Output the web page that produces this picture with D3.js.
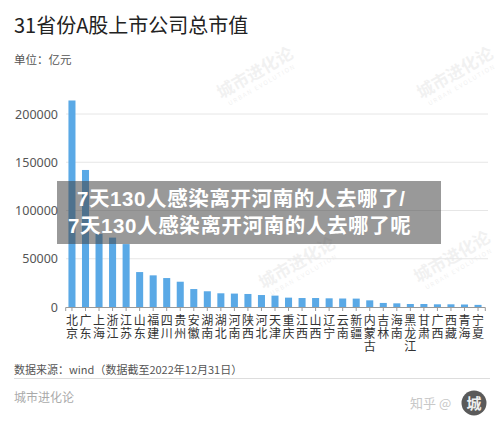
<!DOCTYPE html>
<html>
<head>
<meta charset="utf-8">
<script src="https://cdn.jsdelivr.net/npm/d3@7"></script>
<style>
  html, body { margin: 0; padding: 0; background: #fff; }
  svg { display: block; font-family: "Noto Sans CJK SC", "Noto Sans", sans-serif; }
</style>
</head>
<body>
<svg id="chart" width="500" height="425"></svg>
<script>
const provinces = ["北京","广东","上海","浙江","江苏","山东","福建","四川","贵州","安徽","湖南","湖北","河南","陕西","河北","天津","重庆","江西","山西","辽宁","云南","新疆","内蒙古","吉林","海南","黑龙江","甘肃","广西","西藏","青海","宁夏"];
const marketCap = [214000,142000,75800,71900,65200,36200,32800,30000,26200,18600,16300,14200,13900,13500,12400,11800,9700,9300,9300,9000,8800,8700,6900,4200,3800,3100,3100,2800,2800,2600,2200];
const yTicks = [0,50000,100000,150000,200000];
const title = "31省份A股上市公司总市值";
const unitText = "单位：亿元";
const sourceText = "数据来源：wind（数据截至2022年12月31日）";
const brandText = "城市进化论";
const overlayLines = ["7天130人感染离开河南的人去哪了/","7天130人感染离开河南的人去哪了呢"];

const svg = d3.select("#chart");

// faint watermarks (only in empty areas)
const wmPos = [[258,78],[458,78],[300,268],[455,262]];
const wm = svg.append("g").attr("class","watermarks");
wmPos.forEach(([x, y]) => {
  const g = wm.append("g").attr("transform", `translate(${x},${y}) rotate(-30)`);
  g.append("text").attr("text-anchor","middle").attr("font-size",17).attr("font-weight","bold")
    .attr("fill","#000").attr("opacity",0.05).text(brandText);
  g.append("text").attr("text-anchor","middle").attr("y",10).attr("font-size",6).attr("letter-spacing",1.5)
    .attr("fill","#000").attr("opacity",0.06).text("URBAN EVOLUTION");
});

// title
svg.append("text").attr("x",14).attr("y",33).attr("font-size",20).attr("fill","#222").text(title);
svg.append("text").attr("x",14).attr("y",64).attr("font-size",11.5).attr("fill","#555").text(unitText);

const x = d3.scaleBand().domain(provinces).range([65.2, 484.8]).paddingInner(0.48).paddingOuter(0.24);
const y = d3.scaleLinear().domain([0, 200000]).range([307, 114]);

// grid
svg.append("g").selectAll("line").data(yTicks.filter(d => d > 0)).join("line")
  .attr("x1", 66).attr("x2", 488).attr("y1", d => y(d)).attr("y2", d => y(d))
  .attr("stroke", "#e6e6e6").attr("stroke-width", 1);

// y labels
const yAxis = svg.append("g").attr("transform","translate(58,0)")
  .call(d3.axisLeft(y).tickValues(yTicks).tickSize(0).tickPadding(0).tickFormat(d3.format("d")));
yAxis.select(".domain").remove();
yAxis.selectAll("text").attr("font-size",12.5).attr("fill","#555")
  .attr("font-family","'Noto Sans', 'DejaVu Sans', sans-serif");

// bars
svg.append("g").selectAll("rect").data(provinces).join("rect")
  .attr("x", d => x(d)).attr("width", x.bandwidth())
  .attr("y", (d,i) => y(marketCap[i])).attr("height", (d,i) => y(0) - y(marketCap[i]))
  .attr("fill", "#5aa9e6");

// x axis
const xAxis = svg.append("g").attr("transform", `translate(0,${y(0)})`)
  .call(d3.axisBottom(x).tickSize(4).tickFormat(""));
xAxis.select(".domain").attr("stroke","#999");
xAxis.selectAll(".tick line").attr("stroke","#999");

// vertical category labels (vertical writing mode, one text per province)
svg.append("g").selectAll("text").data(provinces).join("text")
  .attr("x", d => x(d) + x.bandwidth()/2).attr("y", 314)
  .style("writing-mode","vertical-rl").style("text-orientation","upright")
  .attr("letter-spacing", 1.4)
  .attr("font-size",12).attr("fill","#333")
  .text(d => d);

// footer
svg.append("text").attr("x",14).attr("y",374).attr("font-size",11).attr("fill","#555").text(sourceText);
svg.append("line").attr("x1",14).attr("x2",490).attr("y1",378.5).attr("y2",378.5).attr("stroke","#ddd");
svg.append("text").attr("x",14).attr("y",402).attr("font-size",12).attr("fill","#aaa").text(brandText);

// zhihu mark
svg.append("text").attr("x",410).attr("y",408).attr("font-size",13).attr("fill","#c8c8c8").text("知乎 @");
svg.append("circle").attr("cx",474).attr("cy",403).attr("r",12.5).attr("fill","#5a5a5a");
svg.append("text").attr("x",474).attr("y",409).attr("text-anchor","middle").attr("font-size",15)
  .attr("font-weight","bold").attr("fill","#eee").text("城");

// overlay banner
svg.append("rect").attr("x",57).attr("y",181).attr("width",384).attr("height",63)
  .attr("fill","rgb(70,70,70)").attr("opacity",0.55);
const bannerFont = "'Liberation Sans', 'Noto Sans CJK SC', sans-serif";
svg.append("text").attr("x",77).attr("y",206).attr("font-size",20.5).attr("letter-spacing",0.6).attr("font-weight","bold")
  .attr("font-family", bannerFont).attr("fill","#fff").text(overlayLines[0]);
svg.append("text").attr("x",68).attr("y",233).attr("font-size",20.5).attr("letter-spacing",0.6).attr("font-weight","bold")
  .attr("font-family", bannerFont).attr("fill","#fff").text(overlayLines[1]);
</script>
</body>
</html>
